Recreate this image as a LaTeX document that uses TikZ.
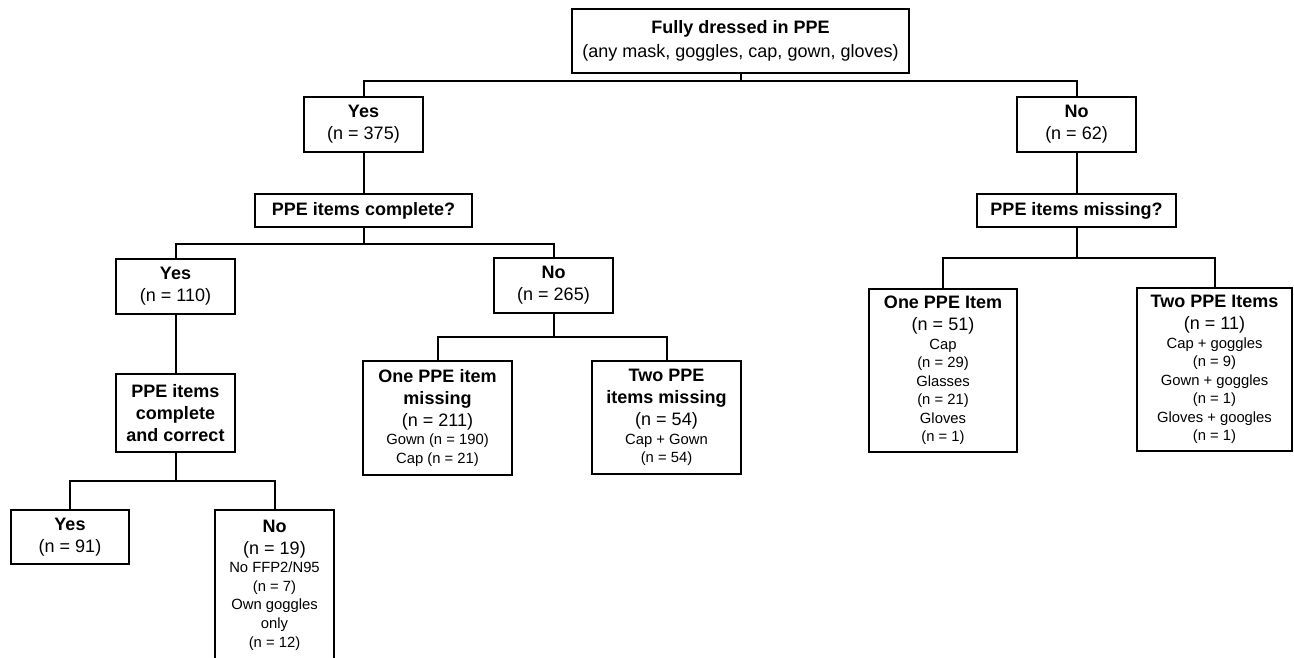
\documentclass[tikz,border=0pt]{standalone}
\usepackage{fontspec}
\setmainfont{Liberation Sans}
\newcommand{\smf}{\fontsize{11.1}{13}\selectfont}
\tikzset{
  box/.style={draw, line width=1pt, inner sep=0pt, align=center,
    font=\fontsize{13.5}{16.5}\selectfont},
  sz/.style 2 args={minimum width=#1*0.75pt, minimum height=#2*0.75pt},
  conn/.style={line width=1.5pt}
}
\begin{document}
\begin{tikzpicture}[x=0.75pt,y=-0.75pt]
\useasboundingbox (0,0) rectangle (1294,657);
% nodes
\node[box,sz={337}{64}] (top) at (740.5,41) {{\bfseries Fully dressed in PPE}\\[1pt](any mask, goggles, cap, gown, gloves)};
\node[box,sz={119}{55}] (yes1) at (363.5,124.5) {{\bfseries Yes}\\(n = 375)};
\node[box,sz={119}{55}] (no1) at (1076.5,124.5) {{\bfseries No}\\(n = 62)};
\node[box,sz={217}{33}] (q1) at (363.5,210.5) {\bfseries PPE items complete?};
\node[box,sz={199}{33}] (q2) at (1076.5,210.5) {\bfseries PPE items missing?};
\node[box,sz={119}{55}] (yes2) at (175.5,286.5) {{\bfseries Yes}\\(n = 110)};
\node[box,sz={119}{55}] (no2) at (553.5,285.5) {{\bfseries No}\\(n = 265)};
\node[box,sz={119}{78}] (q3) at (175.5,413) {\bfseries PPE items\\\bfseries complete\\\bfseries and correct};
\node[box,sz={118}{54}] (yes3) at (70,537) {{\bfseries Yes}\\(n = 91)};
\node[box,sz={119}{150}] (no3) at (274.5,585) {{\bfseries No}\\(n = 19)\\[-2.6pt]{\smf No FFP2/N95}\\[-2.6pt]{\smf (n = 7)}\\[-2.6pt]{\smf Own goggles}\\[-2.6pt]{\smf only}\\[-2.6pt]{\smf (n = 12)}};
\node[box,sz={149}{114}] (one1) at (437.5,418) {{\bfseries One PPE item}\\{\bfseries missing}\\(n = 211)\\[-2.6pt]{\smf Gown (n = 190)}\\[-2.6pt]{\smf Cap (n = 21)}};
\node[box,sz={149}{113}] (two1) at (666.5,417.5) {{\bfseries Two PPE}\\{\bfseries items missing}\\(n = 54)\\[-2.6pt]{\smf Cap + Gown}\\[-2.6pt]{\smf (n = 54)}};
\node[box,sz={148}{163}] (one2) at (943,370.5) {{\bfseries One PPE Item}\\(n = 51)\\[-2.6pt]{\smf Cap}\\[-2.6pt]{\smf (n = 29)}\\[-2.6pt]{\smf Glasses}\\[-2.6pt]{\smf (n = 21)}\\[-2.6pt]{\smf Gloves}\\[-2.6pt]{\smf (n = 1)}};
\node[box,sz={155}{163}] (two2) at (1214.5,369.5) {{\bfseries Two PPE Items}\\(n = 11)\\[-2.6pt]{\smf Cap + goggles}\\[-2.6pt]{\smf (n = 9)}\\[-2.6pt]{\smf Gown + goggles}\\[-2.6pt]{\smf (n = 1)}\\[-2.6pt]{\smf Gloves + googles}\\[-2.6pt]{\smf (n = 1)}};
% branch points
\coordinate (b1) at (740.5,81);
\coordinate (b2) at (363.5,244);
\coordinate (b3) at (1076.5,258);
\coordinate (b4) at (175.5,481);
\coordinate (b5) at (553.5,337);
% connectors
\draw[conn] (top.south) -- (b1);
\draw[conn] (yes1.north) |- (b1) -| (no1.north);
\draw[conn] (yes1.south) -- (q1.north);
\draw[conn] (no1.south) -- (q2.north);
\draw[conn] (q1.south) -- (b2);
\draw[conn] (yes2.north) |- (b2) -| (no2.north);
\draw[conn] (q2.south) -- (b3);
\draw[conn] (one2.north) |- (b3) -| (two2.north);
\draw[conn] (yes2.south) -- (q3.north);
\draw[conn] (q3.south) -- (b4);
\draw[conn] (yes3.north) |- (b4) -| (no3.north);
\draw[conn] (no2.south) -- (b5);
\draw[conn] (one1.north) |- (b5) -| (two1.north);
\end{tikzpicture}
\end{document}
